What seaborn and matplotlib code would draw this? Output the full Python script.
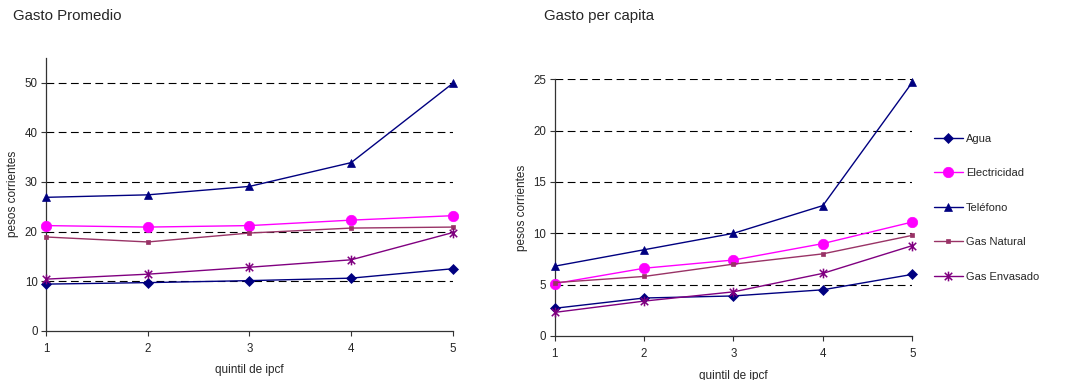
import numpy as np
import pandas as pd
import matplotlib
matplotlib.use("Agg")
import matplotlib.pyplot as plt
from matplotlib.path import Path
import seaborn as sns

# Quintiles of per-capita family income
quintiles = [1, 2, 3, 4, 5]
series_names = ["Agua", "Electricidad", "Teléfono", "Gas Natural", "Gas Envasado"]

# Average household spending (pesos corrientes)
prom_agua = [9.4, 9.7, 10.1, 10.6, 12.5]
prom_electricidad = [21.2, 20.9, 21.2, 22.3, 23.2]
prom_telefono = [26.9, 27.4, 29.1, 33.9, 49.9]
prom_gas_natural = [18.9, 17.9, 19.7, 20.7, 20.9]
prom_gas_envasado = [10.4, 11.4, 12.8, 14.3, 19.8]

# Per-capita spending (pesos corrientes)
pc_agua = [2.7, 3.7, 3.9, 4.5, 6.0]
pc_electricidad = [5.1, 6.6, 7.4, 9.0, 11.1]
pc_telefono = [6.8, 8.4, 10.0, 12.7, 24.7]
pc_gas_natural = [5.2, 5.8, 7.0, 8.0, 9.8]
pc_gas_envasado = [2.3, 3.4, 4.3, 6.1, 8.8]

sns.set_theme(style="white")
plt.rcParams["font.family"] = ["Liberation Sans", "DejaVu Sans"]

# Asterisk marker: an X crossed by a vertical stroke
star_path = Path(
    [(-1, -1), (1, 1), (-1, 1), (1, -1), (0, -1.3), (0, 1.3)],
    [Path.MOVETO, Path.LINETO, Path.MOVETO, Path.LINETO, Path.MOVETO, Path.LINETO],
)

styles = {
    "Agua": dict(color="#000080", marker="D", ms=5.5, mew=0.5),
    "Electricidad": dict(color="#FF00FF", marker="o", ms=7.5, mew=0.5),
    "Teléfono": dict(color="#000080", marker="^", ms=6.2, mew=0.5),
    "Gas Natural": dict(color="#993366", marker="s", ms=3, mew=0.5),
    "Gas Envasado": dict(color="#800080", marker=star_path, ms=7, mew=1.1),
}

TICK_FS = 8.3
LABEL_FS = 8.5


def long_frame(values):
    rows = []
    for name, vals in zip(series_names, values):
        for q, v in zip(quintiles, vals):
            rows.append({"quintil": q, "valor": v, "serie": name})
    return pd.DataFrame(rows)


df_prom = long_frame([prom_agua, prom_electricidad, prom_telefono,
                      prom_gas_natural, prom_gas_envasado])
df_pc = long_frame([pc_agua, pc_electricidad, pc_telefono,
                    pc_gas_natural, pc_gas_envasado])

fig = plt.figure(figsize=(10.86, 3.8), dpi=100)
ax1 = fig.add_axes([0.0424, 0.1297, 0.3746, 0.7177])
ax2 = fig.add_axes([0.5108, 0.1158, 0.3292, 0.6755])


def draw(ax, df, ymax, yticks):
    for name in series_names:
        st = styles[name]
        sub = df[df["serie"] == name]
        sns.lineplot(
            data=sub, x="quintil", y="valor", ax=ax, color=st["color"],
            marker=st["marker"], markersize=st["ms"], markeredgewidth=st["mew"],
            markeredgecolor=st["color"], markerfacecolor=st["color"],
            linewidth=1.0, label=name, legend=False, zorder=3, clip_on=False,
        )
    ax.set_xlim(1, 5)
    ax.set_ylim(0, ymax)
    ax.set_xticks(quintiles)
    ax.set_yticks(yticks)
    for y in yticks[1:]:
        ax.axhline(y, color="black", linewidth=0.8, linestyle=(0, (7, 4)), zorder=1)
    for s in ["top", "right"]:
        ax.spines[s].set_visible(False)
    for s in ["left", "bottom"]:
        ax.spines[s].set_color("#333333")
        ax.spines[s].set_linewidth(0.9)
    ax.tick_params(axis="both", which="major", labelsize=TICK_FS, length=3.5,
                   width=0.8, color="#333333", direction="out",
                   bottom=True, left=True)
    ax.tick_params(axis="x", pad=5)
    ax.tick_params(axis="y", pad=2.5)
    ax.set_xlabel("quintil de ipcf", fontsize=LABEL_FS, labelpad=7)
    ax.set_ylabel("pesos corrientes", fontsize=LABEL_FS, labelpad=4)


draw(ax1, df_prom, 55, [0, 10, 20, 30, 40, 50])
draw(ax2, df_pc, 25, [0, 5, 10, 15, 20, 25])

fig.text(0.012, 0.958, "Gasto Promedio", fontsize=10.8, ha="left", va="center")
fig.text(0.501, 0.958, "Gasto per capita", fontsize=10.8, ha="left", va="center")

handles, labels = ax2.get_legend_handles_labels()
fig.legend(handles, labels, loc="upper left", bbox_to_anchor=(0.860, 0.648),
           frameon=False, fontsize=8, labelspacing=2.2, handlelength=2.6,
           handletextpad=0.25, borderpad=0, borderaxespad=0)

fig.savefig("out.png", dpi=100, facecolor="white")
